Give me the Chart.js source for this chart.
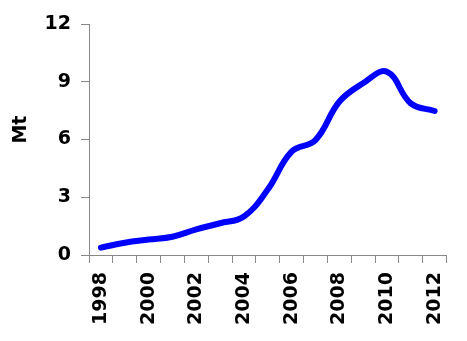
<!DOCTYPE html>
<html>
<head>
<meta charset="utf-8">
<script src="https://cdn.jsdelivr.net/npm/chart.js@4/dist/chart.umd.min.js"></script>
<style>
  html, body { margin: 0; padding: 0; background: #fff; }
  #wrap { width: 467px; height: 341px; }
</style>
</head>
<body>
<div id="wrap"><canvas id="mtChart"></canvas></div>
<script>
const years = ['1998', '1999', '2000', '2001', '2002', '2003', '2004', '2005',
               '2006', '2007', '2008', '2009', '2010', '2011', '2012'];
const mtValues = [0.38, 0.64, 0.8, 0.95, 1.33, 1.65, 2.0, 3.4,
                  5.37, 5.97, 7.96, 8.92, 9.52, 7.88, 7.48];
const yTicks = [0, 3, 6, 9, 12];

const axisFont = { family: 'DejaVu Sans', size: 19, weight: 'bold' };

const ctx = document.getElementById('mtChart').getContext('2d');

new Chart(ctx, {
    type: 'line',
    data: {
        labels: years,
        datasets: [{
            data: mtValues,
            borderColor: '#0000ff',
            borderWidth: 6,
            borderCapStyle: 'round',
            tension: 0.4,
            pointRadius: 0,
            fill: false
        }]
    },
    options: {
        responsive: true,
        maintainAspectRatio: false,
        animation: false,
        layout: { padding: { top: 24, right: 18, left: 0, bottom: 0 } },
        plugins: {
            legend: { display: false },
            tooltip: { enabled: false }
        },
        scales: {
            x: {
                type: 'category',
                offset: true,
                grid: { offset: true, drawOnChartArea: false, color: '#888', tickLength: 8 },
                border: { color: '#888', width: 1 },
                ticks: {
                    autoSkip: false,
                    maxRotation: 90,
                    minRotation: 90,
                    color: '#000',
                    font: axisFont,
                    padding: 9,
                    callback: (v, i) => (i % 2 === 0 ? years[i] : '')
                },
                afterFit: (scale) => { scale.height = 86; }
            },
            y: {
                min: 0,
                max: 12,
                afterBuildTicks: (scale) => { scale.ticks = yTicks.map(v => ({ value: v })); },
                grid: { drawOnChartArea: false, color: '#888', tickLength: 8 },
                border: { color: '#888', width: 1 },
                ticks: { color: '#000', font: axisFont, padding: 10 },
                title: { display: true, text: '   Mt', color: '#000', font: axisFont, padding: { top: 10, bottom: 0 } },
                afterFit: (scale) => { scale.width = 89; }
            }
        }
    }
});
</script>
</body>
</html>
